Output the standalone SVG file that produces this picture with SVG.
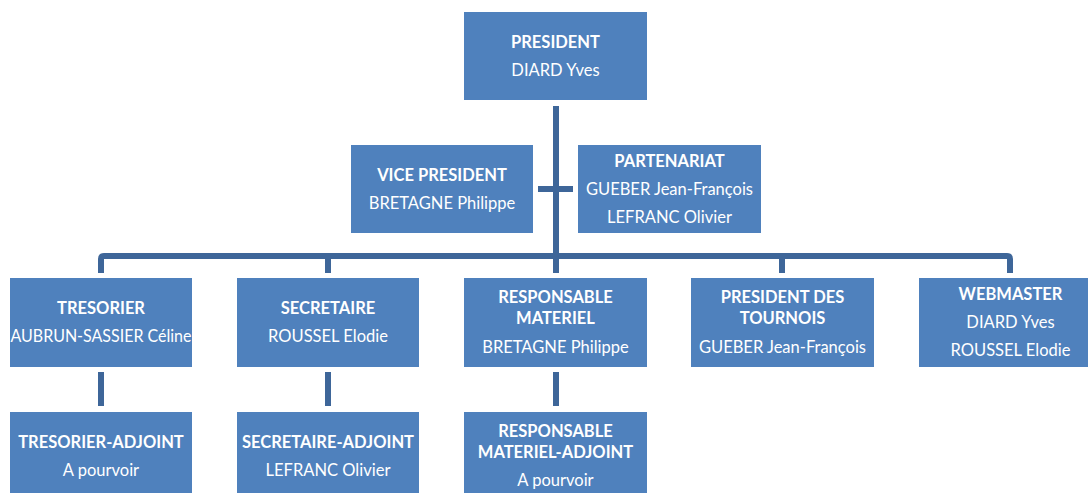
<svg xmlns="http://www.w3.org/2000/svg" width="1088" height="493" viewBox="0 0 1088 493">
<style>
.box{fill:#4F81BD;}
.t{font-family:Lato,"Liberation Sans",sans-serif;font-size:16.5px;fill:#ffffff;text-anchor:middle;}
.b{font-weight:bold;}
.ln{stroke:#3E6699;stroke-width:6;fill:none;stroke-linejoin:round;}
</style>
<rect width="1088" height="493" fill="#ffffff"/>
<g id="connectors">
<line class="ln" x1="556" y1="106" x2="556" y2="262"/>
<line class="ln" x1="538" y1="189" x2="573" y2="189"/>
<path class="ln" d="M101 273 V259 Q101 256 104 256 H1007 Q1010 256 1010 259 V273"/>
<line class="ln" x1="328" y1="256" x2="328" y2="273"/>
<line class="ln" x1="556" y1="256" x2="556" y2="273"/>
<line class="ln" x1="782" y1="256" x2="782" y2="273"/>
<line class="ln" x1="101" y1="372" x2="101" y2="406"/>
<line class="ln" x1="328" y1="372" x2="328" y2="406"/>
<line class="ln" x1="556" y1="372" x2="556" y2="406"/>
</g>
<g id="president">
<rect class="box" x="464" y="12" width="183" height="88"/>
<text class="t b" x="555.5" y="48">PRESIDENT</text>
<text class="t" x="555.5" y="76">DIARD Yves</text>
</g>
<g id="vice-president">
<rect class="box" x="351" y="145" width="182" height="88"/>
<text class="t b" x="442" y="181">VICE PRESIDENT</text>
<text class="t" x="442" y="209">BRETAGNE Philippe</text>
</g>
<g id="partenariat">
<rect class="box" x="578" y="145" width="183" height="88"/>
<text class="t b" x="669.5" y="167">PARTENARIAT</text>
<text class="t" x="669.5" y="195">GUEBER Jean-François</text>
<text class="t" x="669.5" y="223">LEFRANC Olivier</text>
</g>
<g id="tresorier">
<rect class="box" x="10" y="278" width="182" height="89"/>
<text class="t b" x="101" y="314">TRESORIER</text>
<text class="t" x="101" y="342" textLength="181" lengthAdjust="spacingAndGlyphs">AUBRUN-SASSIER Céline</text>
</g>
<g id="secretaire">
<rect class="box" x="237" y="278" width="182" height="89"/>
<text class="t b" x="328" y="314">SECRETAIRE</text>
<text class="t" x="328" y="342">ROUSSEL Elodie</text>
</g>
<g id="responsable-materiel">
<rect class="box" x="464" y="278" width="183" height="89"/>
<text class="t b" x="555.5" y="303">RESPONSABLE</text>
<text class="t b" x="555.5" y="324">MATERIEL</text>
<text class="t" x="555.5" y="353">BRETAGNE Philippe</text>
</g>
<g id="president-tournois">
<rect class="box" x="691" y="278" width="183" height="89"/>
<text class="t b" x="782.5" y="303">PRESIDENT DES</text>
<text class="t b" x="782.5" y="324">TOURNOIS</text>
<text class="t" x="782.5" y="353">GUEBER Jean-François</text>
</g>
<g id="webmaster">
<rect class="box" x="919" y="278" width="183" height="89"/>
<text class="t b" x="1010.5" y="300">WEBMASTER</text>
<text class="t" x="1010.5" y="328">DIARD Yves</text>
<text class="t" x="1010.5" y="356">ROUSSEL Elodie</text>
</g>
<g id="tresorier-adjoint">
<rect class="box" x="10" y="412" width="182" height="89"/>
<text class="t b" x="101" y="448">TRESORIER-ADJOINT</text>
<text class="t" x="101" y="476">A pourvoir</text>
</g>
<g id="secretaire-adjoint">
<rect class="box" x="237" y="412" width="182" height="89"/>
<text class="t b" x="328" y="448">SECRETAIRE-ADJOINT</text>
<text class="t" x="328" y="476">LEFRANC Olivier</text>
</g>
<g id="responsable-materiel-adjoint">
<rect class="box" x="464" y="412" width="183" height="89"/>
<text class="t b" x="555.5" y="437">RESPONSABLE</text>
<text class="t b" x="555.5" y="458">MATERIEL-ADJOINT</text>
<text class="t" x="555.5" y="486">A pourvoir</text>
</g>
</svg>
